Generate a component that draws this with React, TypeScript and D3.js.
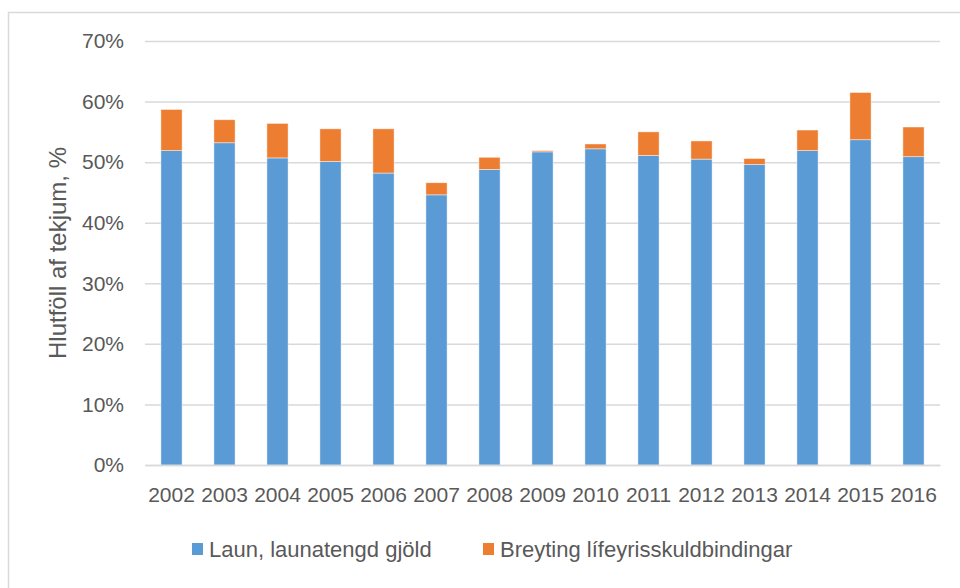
import React, { useRef, useEffect } from 'react';
import * as d3 from 'd3';

// Years on the x axis
const years = ['2002', '2003', '2004', '2005', '2006', '2007', '2008', '2009', '2010', '2011', '2012', '2013', '2014', '2015', '2016'];

// Laun, launatengd gjöld (% of revenue)
const laun = [51.9, 53.2, 50.7, 50.1, 48.2, 44.6, 48.8, 51.7, 52.2, 51.1, 50.5, 49.6, 51.9, 53.7, 50.9];

// Breyting lífeyrisskuldbindingar (% of revenue, stacked on top)
const breyting = [6.8, 3.8, 5.7, 5.4, 7.3, 2.0, 2.0, 0.2, 0.8, 3.9, 3.0, 1.0, 3.4, 7.8, 4.9];

const yTicks = [0, 10, 20, 30, 40, 50, 60, 70];

const seriesNames = ['Laun, launatengd gjöld', 'Breyting lífeyrisskuldbindingar'];
const seriesColors = ['#5B9BD5', '#ED7D31'];

const WIDTH = 960;
const HEIGHT = 588;

const App = () => {
    const svgRef = useRef<SVGSVGElement | null>(null);

    useEffect(() => {
        if (!svgRef.current) return;

        const margin = { top: 41, right: 20, bottom: 123, left: 145 };
        const W = WIDTH - margin.left - margin.right;
        const H = HEIGHT - margin.top - margin.bottom;
        const font = '"Liberation Sans", Arial, sans-serif';
        const textColor = '#595959';
        const gridColor = '#d9d9d9';

        const svg = d3.select(svgRef.current);
        svg.selectAll('*').remove();

        // outer chart border (cropped at right/bottom)
        svg.append('rect')
            .attr('x', 8.5).attr('y', 12.5)
            .attr('width', WIDTH).attr('height', HEIGHT)
            .attr('fill', '#fff')
            .attr('stroke', gridColor).attr('stroke-width', 1.5);

        const g = svg.append('g').attr('transform', `translate(${margin.left},${margin.top})`);

        const x = d3.scaleBand().domain(years).range([0, W]).paddingInner(0.6).paddingOuter(0.3);
        const y = d3.scaleLinear().domain([0, 70]).range([H, 0]);

        // gridlines
        g.append('g')
            .call(d3.axisLeft(y).tickValues(yTicks).tickSize(-W).tickFormat(() => ''))
            .call(s => s.select('.domain').remove())
            .call(s => s.selectAll('.tick line').attr('stroke', gridColor).attr('stroke-width', 1.5));

        // y tick labels
        g.append('g')
            .call(d3.axisLeft(y).tickValues(yTicks).tickSize(0).tickPadding(21).tickFormat(d => `${d}%`))
            .call(s => s.select('.domain').remove())
            .call(s => s.selectAll('.tick text')
                .attr('fill', textColor).attr('font-size', '21px').attr('font-family', font));

        // stacked bars
        const rows = years.map((yr, i) => ({ year: yr, laun: laun[i], breyting: breyting[i] }));
        const stack = d3.stack<any>().keys(['laun', 'breyting'])(rows);

        stack.forEach((layer, li) => {
            g.append('g')
                .selectAll('rect')
                .data(layer)
                .enter()
                .append('rect')
                .attr('x', d => x(d.data.year)!)
                .attr('width', x.bandwidth())
                .attr('y', d => y(d[1]))
                .attr('height', d => y(d[0]) - y(d[1]))
                .attr('fill', seriesColors[li])
                .attr('stroke', '#fff')
                .attr('stroke-opacity', 0.6)
                .attr('stroke-width', 0.75);
        });

        // x axis
        g.append('g').attr('transform', `translate(0,${H})`)
            .call(d3.axisBottom(x).tickSize(0).tickPadding(22))
            .call(s => s.select('.domain').attr('stroke', gridColor).attr('stroke-width', 1.5))
            .call(s => s.selectAll('.tick text')
                .attr('fill', textColor).attr('font-size', '21px').attr('font-family', font));

        // y axis title
        svg.append('text')
            .attr('transform', `translate(${66},${253}) rotate(-90)`)
            .attr('text-anchor', 'middle')
            .attr('fill', textColor)
            .attr('font-size', '24px')
            .attr('font-family', font)
            .text('Hlutföll af tekjum, %');

        // legend
        const legendItems = [
            { x: 192, name: seriesNames[0], color: seriesColors[0] },
            { x: 483, name: seriesNames[1], color: seriesColors[1] },
        ];
        const legend = svg.append('g').attr('transform', 'translate(0,549)');
        legendItems.forEach(it => {
            legend.append('rect')
                .attr('x', it.x).attr('y', -6).attr('width', 11).attr('height', 12)
                .attr('fill', it.color);
            legend.append('text')
                .attr('x', it.x + 17).attr('y', 0).attr('dy', '0.35em')
                .attr('fill', textColor)
                .attr('font-size', '22px')
                .attr('font-family', font)
                .text(it.name);
        });
    }, []);

    return (
        <div style={{ position: 'fixed', top: 0, left: 0 }}>
            <svg ref={svgRef} width={WIDTH} height={HEIGHT} style={{ display: 'block' }} />
        </div>
    );
};

export default App;
